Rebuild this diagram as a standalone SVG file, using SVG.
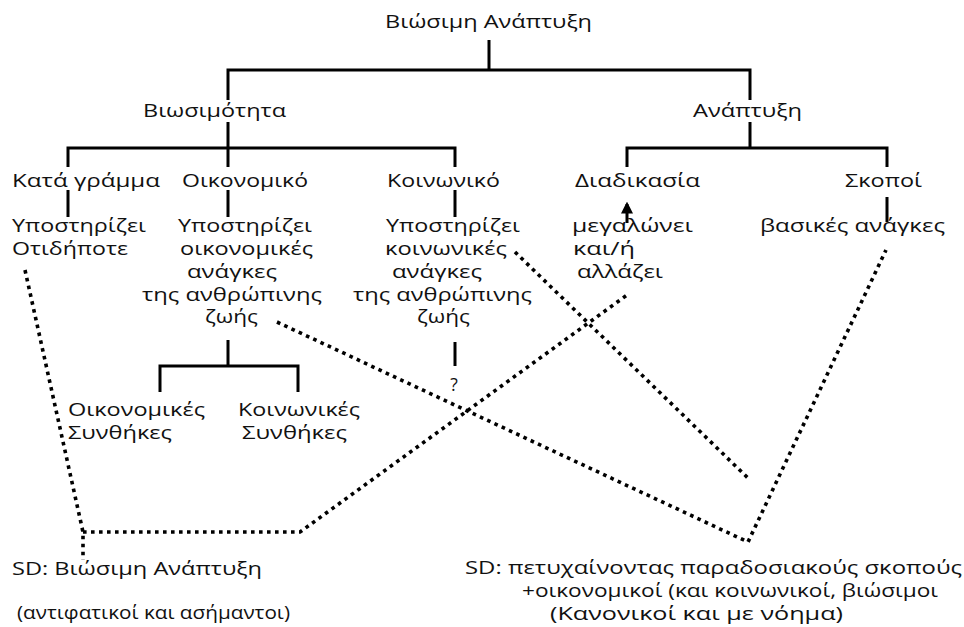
<svg xmlns="http://www.w3.org/2000/svg" width="964" height="627" viewBox="0 0 964 627">
<style>
text{font-family:"Open Sans","Noto Sans","DejaVu Sans",sans-serif;font-size:17.5px;fill:#111}
.t{stroke:#000;stroke-width:3;fill:none}
.d{stroke:#000;stroke-width:3.6;fill:none;stroke-dasharray:3.6 4.4}
</style>
<defs>
<marker id="ah" viewBox="0 0 10 10" refX="8" refY="5" markerWidth="4" markerHeight="4" orient="auto" markerUnits="strokeWidth"><path d="M0,0L10,5L0,10z" fill="#000"/></marker>
</defs>
<rect width="964" height="627" fill="#fff"/>
<g id="connectors">
<path class="t" d="M489,40V70M228,100V70H750V100"/>
<path class="t" d="M228,122V148M68,167V148H455V167M228,148V167"/>
<path class="t" d="M750,122V148M627,167V148H887V167"/>
<path class="t" d="M68,190V217M228,190V217M455,190V217M887,197V222"/>
<path class="t" d="M627,223V204" marker-end="url(#ah)"/>
<path class="t" d="M228,340V366M160,392V366H298V392"/>
<path class="t" d="M455,342V366"/>
<path class="d" d="M25,270L83,532V560M83,532H300L627,295"/>
<path class="d" d="M277,322L748,542L886,250"/>
<path class="d" d="M515,252L750,480"/>
</g>
<g id="n-root"><text x="385" y="28" textLength="207" lengthAdjust="spacingAndGlyphs">Βιώσιμη Ανάπτυξη</text></g>
<g id="n-viosimotita"><text x="143" y="117" textLength="143" lengthAdjust="spacingAndGlyphs">Βιωσιμότητα</text></g>
<g id="n-anaptyxi"><text x="693" y="117" textLength="109" lengthAdjust="spacingAndGlyphs">Ανάπτυξη</text></g>
<g id="n-kata"><text x="12" y="187" textLength="148" lengthAdjust="spacingAndGlyphs">Κατά γράμμα</text></g>
<g id="n-oikonomiko"><text x="182" y="187" textLength="126" lengthAdjust="spacingAndGlyphs">Οικονομικό</text></g>
<g id="n-koinoniko"><text x="387" y="187" textLength="113" lengthAdjust="spacingAndGlyphs">Κοινωνικό</text></g>
<g id="n-diadikasia"><text x="575" y="187" textLength="125" lengthAdjust="spacingAndGlyphs">Διαδικασία</text></g>
<g id="n-skopoi"><text x="845" y="187" textLength="77" lengthAdjust="spacingAndGlyphs">Σκοποί</text></g>
<g id="n-otidipote">
<text x="12" y="232" textLength="134" lengthAdjust="spacingAndGlyphs">Υποστηρίζει</text>
<text x="12" y="255" textLength="116" lengthAdjust="spacingAndGlyphs">Οτιδήποτε</text>
</g>
<g id="n-oik-anagkes">
<text x="178" y="232" textLength="134" lengthAdjust="spacingAndGlyphs">Υποστηρίζει</text>
<text x="180" y="255" textLength="133" lengthAdjust="spacingAndGlyphs">οικονομικές</text>
<text x="187" y="278" textLength="90" lengthAdjust="spacingAndGlyphs">ανάγκες</text>
<text x="142" y="301" textLength="180" lengthAdjust="spacingAndGlyphs">της ανθρώπινης</text>
<text x="205" y="323" textLength="53" lengthAdjust="spacingAndGlyphs">ζωής</text>
</g>
<g id="n-koin-anagkes">
<text x="386" y="232" textLength="134" lengthAdjust="spacingAndGlyphs">Υποστηρίζει</text>
<text x="385" y="255" textLength="122" lengthAdjust="spacingAndGlyphs">κοινωνικές</text>
<text x="392" y="278" textLength="90" lengthAdjust="spacingAndGlyphs">ανάγκες</text>
<text x="353" y="301" textLength="179" lengthAdjust="spacingAndGlyphs">της ανθρώπινης</text>
<text x="417" y="323" textLength="53" lengthAdjust="spacingAndGlyphs">ζωής</text>
</g>
<g id="n-question"><text x="454" y="391" text-anchor="middle">?</text></g>
<g id="n-megalonei">
<text x="572" y="232" textLength="121" lengthAdjust="spacingAndGlyphs">μεγαλώνει</text>
<text x="573" y="255" textLength="62" lengthAdjust="spacingAndGlyphs">και/ή</text>
<text x="577" y="278" textLength="86" lengthAdjust="spacingAndGlyphs">αλλάζει</text>
</g>
<g id="n-vasikes"><text x="760" y="232" textLength="185" lengthAdjust="spacingAndGlyphs">βασικές ανάγκες</text></g>
<g id="n-oik-synthikes">
<text x="68" y="416" textLength="137" lengthAdjust="spacingAndGlyphs">Οικονομικές</text>
<text x="68" y="439" textLength="104" lengthAdjust="spacingAndGlyphs">Συνθήκες</text>
</g>
<g id="n-koin-synthikes">
<text x="238" y="416" textLength="122" lengthAdjust="spacingAndGlyphs">Κοινωνικές</text>
<text x="242" y="439" textLength="105" lengthAdjust="spacingAndGlyphs">Συνθήκες</text>
</g>
<g id="n-sd-left">
<text x="12" y="575" textLength="250" lengthAdjust="spacingAndGlyphs">SD: Βιώσιμη Ανάπτυξη</text>
<text x="17" y="619" textLength="273" lengthAdjust="spacingAndGlyphs">(αντιφατικοί και ασήμαντοι)</text>
</g>
<g id="n-sd-right">
<text x="465" y="574" textLength="497" lengthAdjust="spacingAndGlyphs">SD: πετυχαίνοντας παραδοσιακούς σκοπούς</text>
<text x="522" y="597" textLength="416" lengthAdjust="spacingAndGlyphs">+οικονομικοί (και κοινωνικοί, βιώσιμοι</text>
<text x="550" y="620" textLength="293" lengthAdjust="spacingAndGlyphs">(Κανονικοί και με νόημα)</text>
</g>
</svg>
